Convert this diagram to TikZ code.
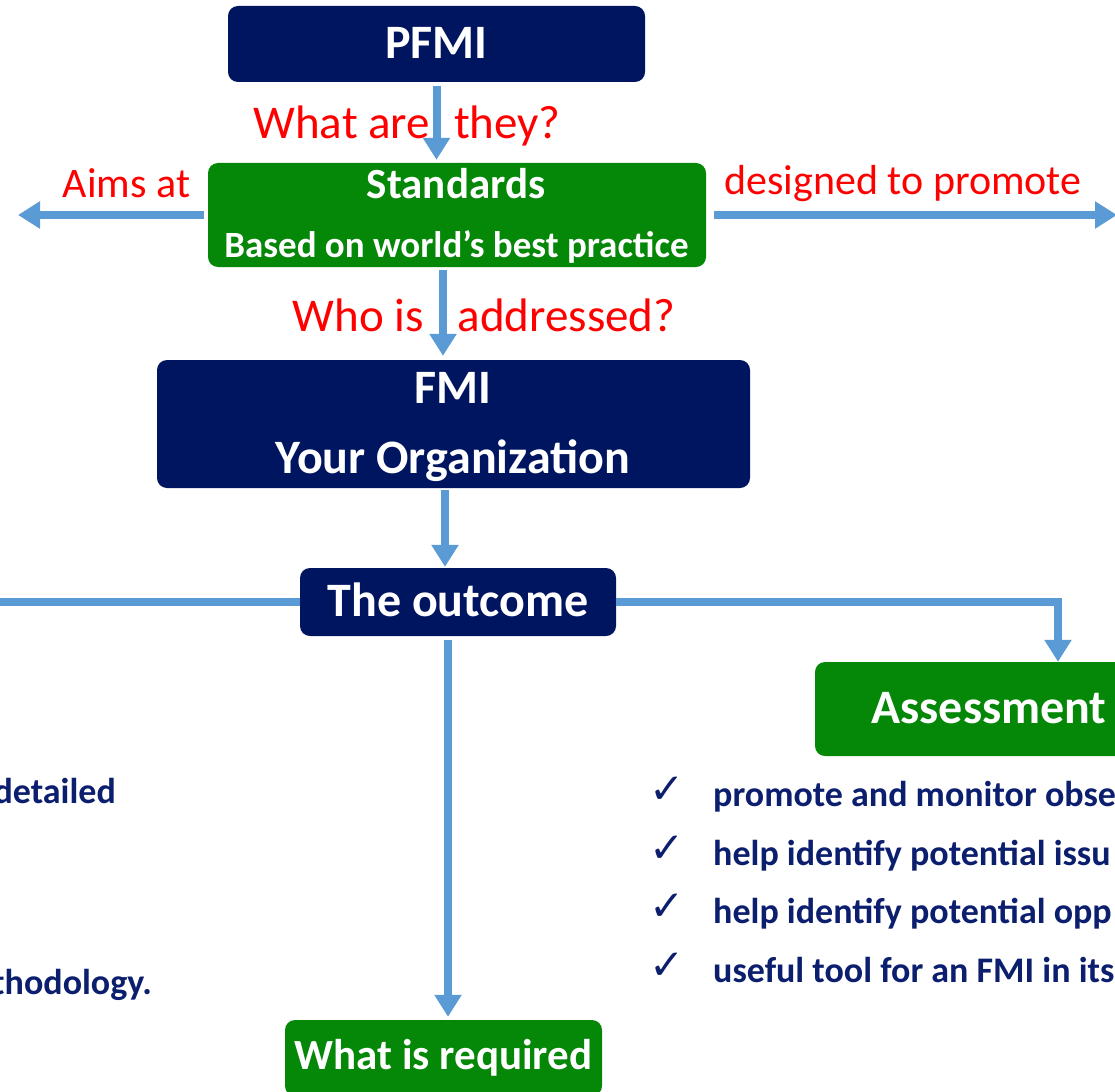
\documentclass[tikz,border=0pt]{standalone}
\usepackage{fontspec}
\setmainfont{Carlito}
\newfontfamily\symbolfont{DejaVu Sans}
\usetikzlibrary{arrows.meta}
\definecolor{boxnavy}{RGB}{0,21,96}
\definecolor{boxgreen}{RGB}{5,135,8}
\definecolor{flowblue}{RGB}{91,155,213}
\definecolor{listnavy}{RGB}{12,30,110}
\begin{document}
\begin{tikzpicture}[x=1pt,y=-1pt,
  panel/.style={rectangle, rounded corners=10pt, inner sep=0pt, draw=none},
  navypanel/.style={panel, fill=boxnavy},
  greenpanel/.style={panel, fill=boxgreen},
  caption/.style={inner sep=0pt, anchor=base, text=white},
  ask/.style={inner sep=0pt, anchor=base, text=red, font=\fontsize{47}{56}\selectfont},
  relation/.style={inner sep=0pt, anchor=base, text=red, font=\fontsize{42}{50}\selectfont},
  flow/.style={draw=flowblue, line width=8pt},
  flowarrow/.style={flow, -{Triangle[width=26pt,length=22pt]}},
  tick/.style={inner sep=0pt, anchor=base, text=listnavy, font=\symbolfont\fontsize{42}{48}\selectfont},
  point/.style={inner sep=0pt, anchor=base west, text=listnavy, font=\bfseries\fontsize{36}{42}\selectfont},
]
\useasboundingbox (0,0) rectangle (1115,1091);
\clip (0,0) rectangle (1115,1091);
\fill[white] (0,0) rectangle (1115,1091);

% boxes
\node[navypanel, minimum width=417pt, minimum height=76pt] (pfmi) at (436.5,44) {};
\node[caption, font=\bfseries\fontsize{48}{56}\selectfont] (pfmitext) at (436.5,59) {PFMI};

\node[greenpanel, minimum width=498pt, minimum height=104pt] (std) at (457,215) {};
\node[caption, font=\bfseries\fontsize{43}{50}\selectfont] (stdtitle) at (456,199) {Standards};
\node[caption, font=\bfseries\fontsize{37}{44}\selectfont] (stdsub) at (456.5,258) {Based on world’s best practice};

\node[navypanel, minimum width=593pt, minimum height=128pt] (fmi) at (453.5,424) {};
\node[caption, font=\bfseries\fontsize{48}{56}\selectfont] (fmititle) at (453,403.5) {FMI};
\node[caption, font=\bfseries\fontsize{48}{56}\selectfont] (fmiorg) at (453,473.5) {Your Organization};

\node[navypanel, minimum width=316pt, minimum height=68pt] (outcome) at (458,602) {};
\node[caption, font=\bfseries\fontsize{48}{56}\selectfont] (outcometext) at (458,616.5) {The outcome};

\node[greenpanel, minimum width=320pt, minimum height=94pt] (assess) at (975,709) {};
\node[caption, font=\bfseries\fontsize{48}{56}\selectfont] (assesstext) at (989,723.5) {Assessment};

\node[greenpanel, minimum width=317pt, minimum height=76pt] (required) at (443.5,1058) {};
\node[caption, font=\bfseries\fontsize{43}{50}\selectfont] (requiredtext) at (443.5,1069) {What is required};

% red questions and relations
\node[ask] (askwhat) at (407,139) {What are\hspace{24pt}they?};
\node[ask] (askwho) at (484,331) {Who is\hspace{34pt}addressed?};
\node[relation] (aims) at (126.5,198) {Aims at};
\node[relation] (designed) at (903,195) {designed to promote};

% connectors
\draw[flowarrow, shorten <=4pt, shorten >=3pt] (pfmi.south) -- (pfmi.south |- std.north);
\draw[flowarrow, shorten <=3pt, shorten >=4pt] (443,0 |- std.south) -- (443,0 |- fmi.north);
\draw[flowarrow, shorten <=2pt, shorten >=1pt] (445,0 |- fmi.south) -- (445,0 |- outcome.north);
\draw[flowarrow, shorten <=4pt, shorten >=3pt] (448,0 |- outcome.south) -- (448,0 |- required.north);
\draw[flowarrow, shorten <=4pt] (std.west) -- (18,0 |- std.west);
\draw[flowarrow, shorten <=8pt] (std.east) -- (1117,0 |- std.east);
\draw[flow] (outcome.west) -- (-6,0 |- outcome.west);
\draw[flowarrow] (outcome.east) -- (1058,0 |- outcome.east) -- (1058,0 |- assess.north);

% assessment points
\node[tick] (tick1) at (667,803) {✓};
\node[tick] (tick2) at (667,862) {✓};
\node[tick] (tick3) at (667,920) {✓};
\node[tick] (tick4) at (667,979) {✓};
\node[point] (pt1) at (713,806) {promote and monitor obse};
\node[point] (pt2) at (713,865) {help identify potential issu};
\node[point] (pt3) at (713,923) {help identify potential opp};
\node[point] (pt4) at (713,982) {useful tool for an FMI in its};

% left column fragments
\node[point, anchor=base east] (leftone) at (116,803) {detailed};
\node[point, anchor=base east] (lefttwo) at (152,994) {thodology.};
\end{tikzpicture}
\end{document}
